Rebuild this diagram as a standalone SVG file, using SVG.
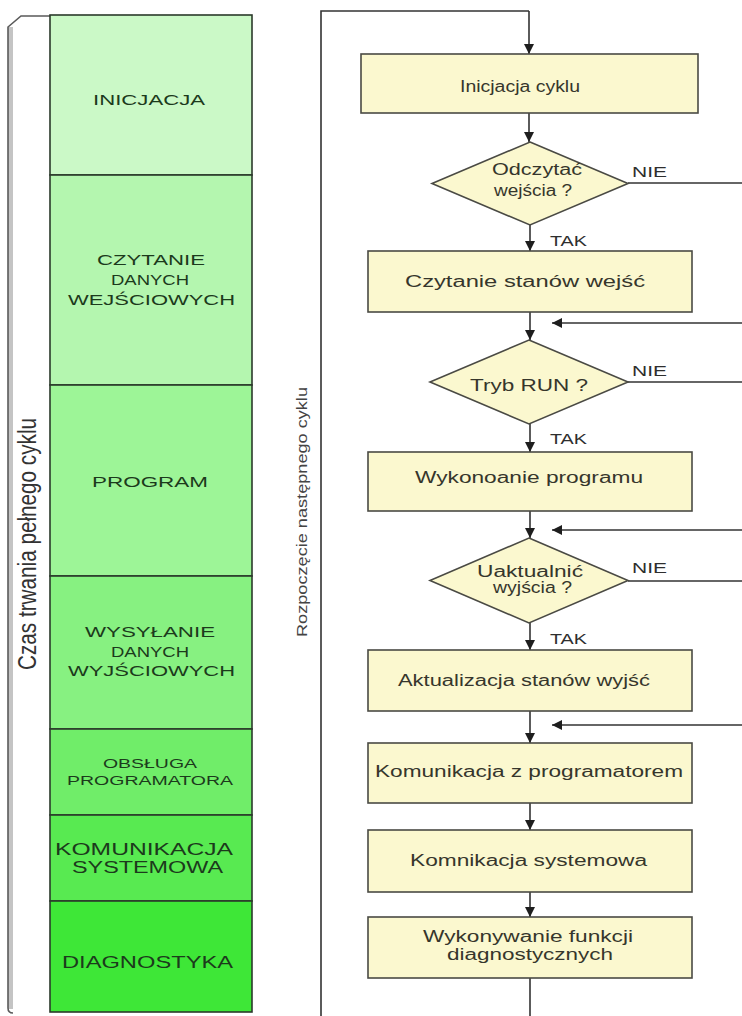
<svg xmlns="http://www.w3.org/2000/svg" width="742" height="1016" viewBox="0 0 742 1016">
<defs>
<marker id="ah" viewBox="0 0 10 10" refX="10" refY="5" markerWidth="10" markerHeight="10" markerUnits="userSpaceOnUse" orient="auto"><path d="M0,0 L10,5 L0,10 z" fill="#1e1e1e"/></marker>
</defs>
<style>
.stage{stroke:#2b3a2b;stroke-width:1.6}
.stxt{font-family:"Liberation Sans",Arial,sans-serif;fill:#1c3a1c;text-anchor:middle;lengthAdjust:spacingAndGlyphs}
.box{fill:#fbf8cf;stroke:#4a4a44;stroke-width:1.6}
.ftxt{font-family:"Liberation Sans",Arial,sans-serif;font-size:16px;fill:#36362c;text-anchor:middle}
.lbl{font-family:"Liberation Sans",Arial,sans-serif;font-size:14px;fill:#2e2e2e}
.conn{fill:none;stroke:#333;stroke-width:1.6}
.arr{fill:none;stroke:#333;stroke-width:1.6;marker-end:url(#ah)}
</style>
<rect width="742" height="1016" fill="#ffffff"/>

<!-- bracket -->
<g id="bracket">
<rect x="8" y="27" width="5" height="982" fill="#c4c4c4"/>
<path d="M50,16 H21 L8,27 V1008 Q8,1013 13,1013" fill="none" stroke="#5a5a5a" stroke-width="1.6"/>
<text transform="translate(36,544) rotate(-90)" font-family="'Liberation Sans',Arial,sans-serif" font-size="25" fill="#333" text-anchor="middle" textLength="252" lengthAdjust="spacingAndGlyphs">Czas trwania pełnego cyklu</text>
</g>

<!-- stage column -->
<g id="s-inicjacja">
<rect class="stage" x="50" y="15" width="202" height="160" fill="#cbf9c7"/>
<text class="stxt" x="149" y="105" font-size="15" textLength="112" lengthAdjust="spacingAndGlyphs">INICJACJA</text>
</g>
<g id="s-czytanie">
<rect class="stage" x="50" y="175" width="202" height="210" fill="#b4f6af"/>
<text class="stxt" x="151" y="265" font-size="15" textLength="108" lengthAdjust="spacingAndGlyphs">CZYTANIE</text>
<text class="stxt" x="150" y="285" font-size="15" textLength="78" lengthAdjust="spacingAndGlyphs">DANYCH</text>
<text class="stxt" x="151.5" y="305" font-size="15" textLength="167" lengthAdjust="spacingAndGlyphs">WEJŚCIOWYCH</text>
</g>
<g id="s-program">
<rect class="stage" x="50" y="385" width="202" height="191" fill="#9df597"/>
<text class="stxt" x="150" y="487" font-size="15" textLength="116" lengthAdjust="spacingAndGlyphs">PROGRAM</text>
</g>
<g id="s-wysylanie">
<rect class="stage" x="50" y="576" width="202" height="153" fill="#87f181"/>
<text class="stxt" x="150" y="637" font-size="15" textLength="130" lengthAdjust="spacingAndGlyphs">WYSYŁANIE</text>
<text class="stxt" x="150" y="657" font-size="15" textLength="78" lengthAdjust="spacingAndGlyphs">DANYCH</text>
<text class="stxt" x="151.5" y="676" font-size="15" textLength="167" lengthAdjust="spacingAndGlyphs">WYJŚCIOWYCH</text>
</g>
<g id="s-obsluga">
<rect class="stage" x="50" y="729" width="202" height="86" fill="#70ed69"/>
<text class="stxt" x="150" y="768" font-size="12" textLength="94" lengthAdjust="spacingAndGlyphs">OBSŁUGA</text>
<text class="stxt" x="150" y="785" font-size="12" textLength="166" lengthAdjust="spacingAndGlyphs">PROGRAMATORA</text>
</g>
<g id="s-komunikacja">
<rect class="stage" x="50" y="815" width="202" height="86" fill="#58ea51"/>
<text class="stxt" x="144" y="855" font-size="16" textLength="178" lengthAdjust="spacingAndGlyphs">KOMUNIKACJA</text>
<text class="stxt" x="147.5" y="873" font-size="16" textLength="151" lengthAdjust="spacingAndGlyphs">SYSTEMOWA</text>
</g>
<g id="s-diagnostyka">
<rect class="stage" x="50" y="901" width="202" height="111" fill="#3ee737"/>
<text class="stxt" x="147.5" y="968" font-size="16" textLength="171" lengthAdjust="spacingAndGlyphs">DIAGNOSTYKA</text>
</g>

<!-- connectors -->
<g id="connectors">
<path class="conn" d="M321,1016 V11 H529"/>
<path class="arr" d="M529,11 V54"/>
<path class="arr" d="M529,113 V142"/>
<path class="arr" d="M530,225 V251"/>
<path class="arr" d="M530,312 V340"/>
<path class="arr" d="M530,424 V452"/>
<path class="arr" d="M530,511 V538"/>
<path class="arr" d="M530,623 V650"/>
<path class="arr" d="M530,711 V743"/>
<path class="arr" d="M530,803 V830"/>
<path class="arr" d="M530,892 V917"/>
<path class="conn" d="M530,978 V1016"/>
<path class="conn" d="M628,183 H742"/>
<path class="conn" d="M628,382 H742"/>
<path class="conn" d="M628,581 H742"/>
<path class="arr" d="M742,323 H552"/>
<path class="arr" d="M742,530 H552"/>
<path class="arr" d="M742,725 H552"/>
<text transform="translate(307,512) rotate(-90)" font-family="'Liberation Sans',Arial,sans-serif" font-size="14" fill="#444" text-anchor="middle" textLength="250" lengthAdjust="spacingAndGlyphs">Rozpoczęcie następnego cyklu</text>
<text class="lbl" x="632" y="177" textLength="35" lengthAdjust="spacingAndGlyphs">NIE</text>
<text class="lbl" x="632" y="376" textLength="35" lengthAdjust="spacingAndGlyphs">NIE</text>
<text class="lbl" x="632" y="573" textLength="35" lengthAdjust="spacingAndGlyphs">NIE</text>
<text class="lbl" x="550" y="246" textLength="37" lengthAdjust="spacingAndGlyphs">TAK</text>
<text class="lbl" x="550" y="444" textLength="37" lengthAdjust="spacingAndGlyphs">TAK</text>
<text class="lbl" x="550" y="644" textLength="37" lengthAdjust="spacingAndGlyphs">TAK</text>
</g>

<!-- flowchart nodes -->
<g id="n-inicjacja">
<rect class="box" x="361" y="54" width="337" height="59"/>
<text class="ftxt" x="520" y="92" textLength="120" lengthAdjust="spacingAndGlyphs">Inicjacja cyklu</text>
</g>
<g id="n-odczytac">
<polygon class="box" points="530,142 628,183.5 530,225 432,183.5"/>
<text class="ftxt" x="537" y="175" textLength="90" lengthAdjust="spacingAndGlyphs">Odczytać</text>
<text class="ftxt" x="533" y="196" textLength="78" lengthAdjust="spacingAndGlyphs">wejścia ?</text>
</g>
<g id="n-czytanie">
<rect class="box" x="368" y="251" width="324" height="61"/>
<text class="ftxt" x="525" y="287" textLength="240" lengthAdjust="spacingAndGlyphs">Czytanie stanów wejść</text>
</g>
<g id="n-tryb">
<polygon class="box" points="529,340 628,382 529,424 430,382"/>
<text class="ftxt" x="529" y="391" textLength="118" lengthAdjust="spacingAndGlyphs">Tryb RUN ?</text>
</g>
<g id="n-wykonanie">
<rect class="box" x="368" y="452" width="324" height="59"/>
<text class="ftxt" x="529" y="483" textLength="228" lengthAdjust="spacingAndGlyphs">Wykonoanie programu</text>
</g>
<g id="n-uaktualnic">
<polygon class="box" points="529,538 628,580.5 529,623 430,580.5"/>
<text class="ftxt" x="530" y="577" textLength="106" lengthAdjust="spacingAndGlyphs">Uaktualnić</text>
<text class="ftxt" x="532.5" y="593" textLength="79" lengthAdjust="spacingAndGlyphs">wyjścia ?</text>
</g>
<g id="n-aktualizacja">
<rect class="box" x="368" y="650" width="324" height="61"/>
<text class="ftxt" x="524" y="686" textLength="252" lengthAdjust="spacingAndGlyphs">Aktualizacja stanów wyjść</text>
</g>
<g id="n-programator">
<rect class="box" x="368" y="743" width="324" height="60"/>
<text class="ftxt" x="529" y="777" textLength="308" lengthAdjust="spacingAndGlyphs">Komunikacja z programatorem</text>
</g>
<g id="n-systemowa">
<rect class="box" x="368" y="830" width="324" height="62"/>
<text class="ftxt" x="528.5" y="866" textLength="237" lengthAdjust="spacingAndGlyphs">Komnikacja systemowa</text>
</g>
<g id="n-diagnostyka">
<rect class="box" x="368" y="917" width="324" height="61"/>
<text class="ftxt" x="528" y="942" textLength="210" lengthAdjust="spacingAndGlyphs">Wykonywanie funkcji</text>
<text class="ftxt" x="530" y="960" textLength="166" lengthAdjust="spacingAndGlyphs">diagnostycznych</text>
</g>
</svg>
